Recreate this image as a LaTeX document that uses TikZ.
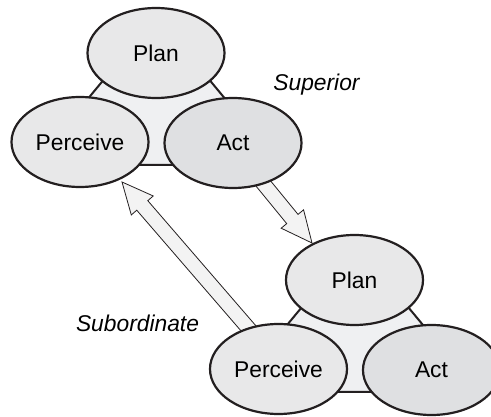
\documentclass[tikz,border=0pt]{standalone}
\usepackage{fontspec}
\setmainfont{Liberation Sans}
\usetikzlibrary{shapes.geometric,calc}
\definecolor{edge}{HTML}{231F20}
\definecolor{lightfill}{HTML}{E8E8E9}
\definecolor{actfill}{HTML}{DFE0E2}
\definecolor{trifill}{HTML}{EFF0F2}
\definecolor{arrowfill}{HTML}{F3F3F3}
\tikzset{
  oval/.style={ellipse, draw=edge, line width=2.2pt, fill=lightfill,
    minimum width=137pt, minimum height=90pt, inner sep=0pt,
    font=\fontsize{22.8}{27}\selectfont},
  actoval/.style={oval, fill=actfill},
  tri/.style={draw=edge, line width=2pt, fill=trifill, line join=round},
  blockarrow/.style={draw=edge, line width=0.8pt, fill=arrowfill, line join=miter},
  lbl/.style={font=\fontsize{22.8}{27}\selectfont\itshape, anchor=base, inner sep=0pt}
}
\newcommand{\blockarr}[2]{%
  \path ($(#2)!31pt!(#1)$) coordinate (hb);
  \draw[blockarrow] ($(#1)!7.3pt!90:(#2)$) -- ($(hb)!7.3pt!90:(#2)$)
    -- ($(hb)!14.5pt!90:(#2)$) -- (#2) -- ($(hb)!14.5pt!-90:(#2)$)
    -- ($(hb)!7.3pt!-90:(#2)$) -- ($(#1)!7.3pt!-90:(#2)$) -- cycle;}
\begin{document}
\begin{tikzpicture}[x=1pt,y=-1pt]
\useasboundingbox (0,0) rectangle (491,417);
% triangles
\foreach \dx/\dy/\n in {0/0/t, 198.5/227/b}{
  \begin{scope}[shift={(\dx,\dy)}]
    \draw[tri] (33,165) -- (280,165) -- (156.5,16) -- cycle;
  \end{scope}
}
% arrow coordinates
\coordinate (a1tail) at (249,166);
\coordinate (a1tip) at (312,243);
\coordinate (a2tail) at (262,344);
\coordinate (a2tip) at (122,182);
\blockarr{a1tail}{a1tip}
\blockarr{a2tail}{a2tip}
% top group
\node[oval] (planT) at (156,53) {Plan};
\node[oval] (percT) at (80,142) {Perceive};
\node[actoval] (actT) at (233,143) {Act};
% bottom group
\node[oval] (planB) at (354.5,280) {Plan};
\node[oval] (percB) at (278.5,369) {Perceive};
\node[actoval] (actB) at (431.5,370) {Act};
% labels
\node[lbl] (sup) at (316.5,91) {Superior};
\node[lbl] (sub) at (137.5,332) {Subordinate};
\end{tikzpicture}
\end{document}
